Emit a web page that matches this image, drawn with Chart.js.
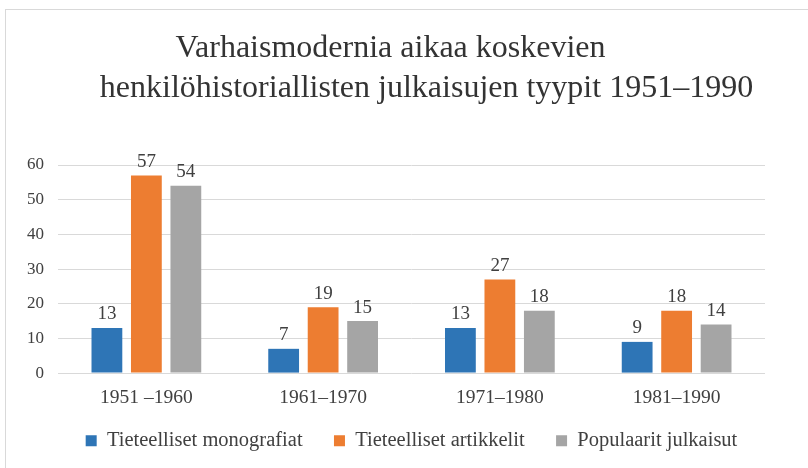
<!DOCTYPE html>
<html>
<head>
<meta charset="utf-8">
<script src="https://cdn.jsdelivr.net/npm/chart.js@4/dist/chart.umd.min.js"></script>
<style>
  html, body { margin: 0; padding: 0; background: #ffffff; }
  #wrap { position: relative; width: 808px; height: 468px; overflow: hidden; }
  #frame { position: absolute; left: 5px; top: 9px; width: 900px; height: 600px;
           border-left: 1px solid #d9d9d9; border-top: 1px solid #d9d9d9; }
  canvas { position: absolute; left: 0; top: 0; }
</style>
</head>
<body>
<div id="wrap">
  <div id="frame"></div>
  <canvas id="c" width="808" height="468"></canvas>
</div>
<script>
const titleLines = ["  Varhaismodernia aikaa koskevien", "           henkilöhistoriallisten julkaisujen tyypit 1951–1990"];
const categories = ["1951 –1960", "1961–1970", "1971–1980", "1981–1990"];
const seriesNames = ["Tieteelliset monografiat", "Tieteelliset artikkelit", "Populaarit julkaisut"];
const monografiat = [13, 7, 13, 9];
const artikkelit = [57, 19, 27, 18];
const populaarit = [54, 15, 18, 14];
const yTicks = [0, 10, 20, 30, 40, 50, 60];

const SERIF = "'Liberation Serif', 'DejaVu Serif', serif";
const textColor = "#404040";

const valueLabels = {
  id: 'valueLabels',
  afterDatasetsDraw(chart) {
    const ctx = chart.ctx;
    ctx.save();
    ctx.font = "19px " + SERIF;
    ctx.fillStyle = textColor;
    ctx.textAlign = 'center';
    ctx.textBaseline = 'bottom';
    chart.data.datasets.forEach((ds, i) => {
      const meta = chart.getDatasetMeta(i);
      meta.data.forEach((el, j) => {
        ctx.fillText(String(ds.data[j]), el.x, el.y - 4);
      });
    });
    ctx.restore();
  }
};

new Chart(document.getElementById('c'), {
  type: 'bar',
  data: {
    labels: categories,
    datasets: [
      { label: seriesNames[0], data: monografiat, backgroundColor: '#2E75B6' },
      { label: seriesNames[1], data: artikkelit, backgroundColor: '#ED7D31' },
      { label: seriesNames[2], data: populaarit, backgroundColor: '#A5A5A5' }
    ]
  },
  options: {
    responsive: false,
    animation: false,
    devicePixelRatio: 1,
    layout: { padding: { left: 0, right: 43, top: 29, bottom: 7 } },
    datasets: { bar: { categoryPercentage: 0.67, barPercentage: 0.78 } },
    plugins: {
      title: {
        display: true,
        text: titleLines,
        color: '#333333',
        font: { family: SERIF, size: 32, weight: 'normal', lineHeight: 1.25 },
        padding: { top: 0, bottom: 56 }
      },
      legend: {
        position: 'bottom',
        fullSize: false,
        labels: {
          boxWidth: 11, boxHeight: 11,
          padding: 16,
          color: textColor,
          font: { family: SERIF, size: 20.5 },
          generateLabels(chart) {
            const items = Chart.defaults.plugins.legend.labels.generateLabels(chart);
            items.forEach((it, i) => { if (i < items.length - 1) it.text = it.text + '   '; });
            return items;
          }
        }
      },
      tooltip: { enabled: false }
    },
    scales: {
      x: {
        grid: { display: false },
        border: { display: false },
        ticks: { color: textColor, font: { family: SERIF, size: 19.5 }, padding: 5 }
      },
      y: {
        min: 0, max: 60,
        afterFit(scale) { scale.width = 58; },
        afterBuildTicks(scale) { scale.ticks = yTicks.map(v => ({ value: v })); },
        grid: { color: '#d9d9d9', drawTicks: false, lineWidth: 1 },
        border: { display: false },
        ticks: { color: textColor, font: { family: SERIF, size: 17 }, padding: 14 }
      }
    }
  },
  plugins: [valueLabels]
});
</script>
</body>
</html>
